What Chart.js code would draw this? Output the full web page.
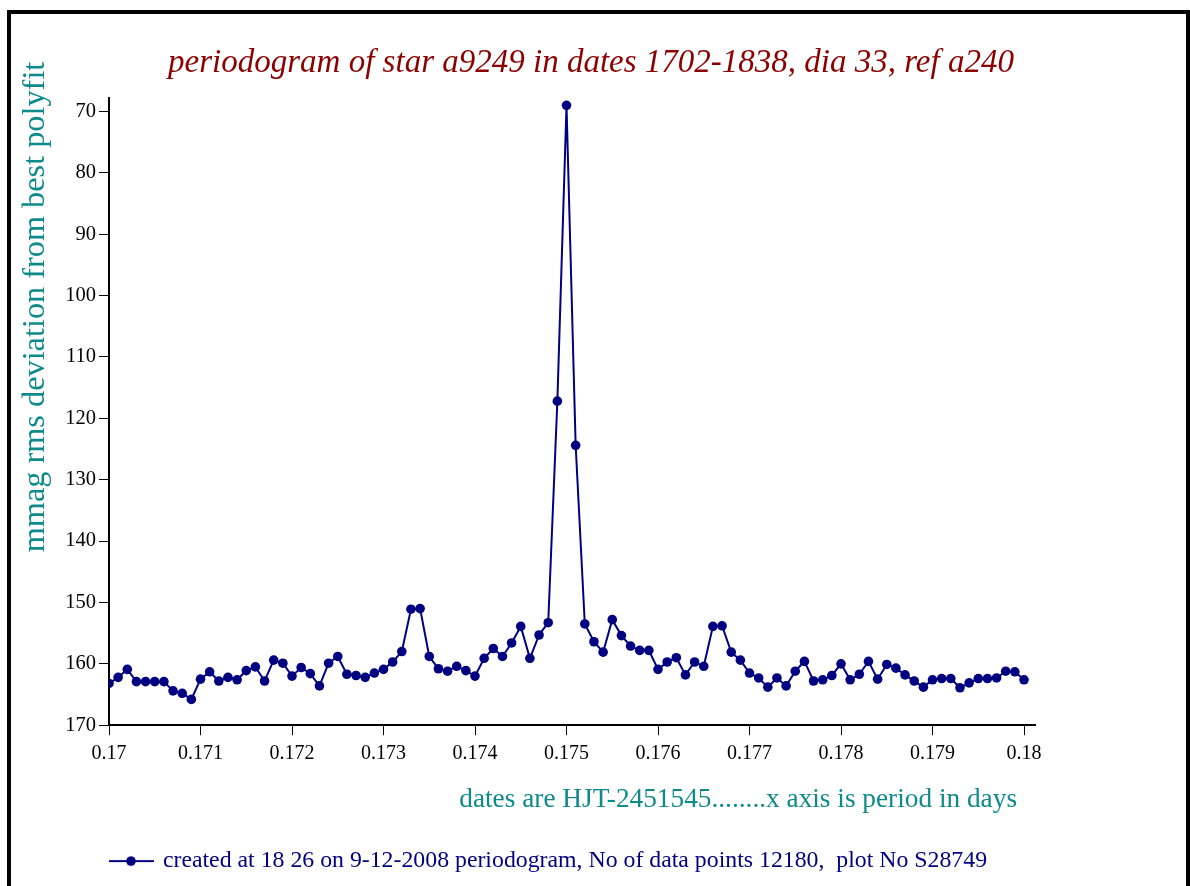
<!DOCTYPE html>
<html>
<head>
<meta charset="utf-8">
<script src="https://cdn.jsdelivr.net/npm/chart.js@4"></script>
<style>
  html, body { margin: 0; padding: 0; background: #fff; }
  #frame { position: absolute; left: 7px; top: 10px; width: 1175px; height: 900px;
           border-left: 4px solid #000; border-top: 4px solid #000; border-right: 4px solid #000; }
  #myChart { position: absolute; left: 0; top: 0; }
</style>
</head>
<body>
<div id="frame"></div>
<canvas id="myChart" width="1190" height="886"></canvas>
<script>
// period in days (x axis)
var periods = [
  0.1700, 0.1701, 0.1702, 0.1703, 0.1704, 0.1705, 0.1706, 0.1707, 0.1708, 0.1709,
  0.1710, 0.1711, 0.1712, 0.1713, 0.1714, 0.1715, 0.1716, 0.1717, 0.1718, 0.1719,
  0.1720, 0.1721, 0.1722, 0.1723, 0.1724, 0.1725, 0.1726, 0.1727, 0.1728, 0.1729,
  0.1730, 0.1731, 0.1732, 0.1733, 0.1734, 0.1735, 0.1736, 0.1737, 0.1738, 0.1739,
  0.1740, 0.1741, 0.1742, 0.1743, 0.1744, 0.1745, 0.1746, 0.1747, 0.1748, 0.1749,
  0.1750, 0.1751, 0.1752, 0.1753, 0.1754, 0.1755, 0.1756, 0.1757, 0.1758, 0.1759,
  0.1760, 0.1761, 0.1762, 0.1763, 0.1764, 0.1765, 0.1766, 0.1767, 0.1768, 0.1769,
  0.1770, 0.1771, 0.1772, 0.1773, 0.1774, 0.1775, 0.1776, 0.1777, 0.1778, 0.1779,
  0.1780, 0.1781, 0.1782, 0.1783, 0.1784, 0.1785, 0.1786, 0.1787, 0.1788, 0.1789,
  0.1790, 0.1791, 0.1792, 0.1793, 0.1794, 0.1795, 0.1796, 0.1797, 0.1798, 0.1799,
  0.1800
];

// mmag rms deviation
var rms = [
  163.2, 162.2, 160.9, 162.9, 162.9, 162.9, 162.9, 164.4, 164.8, 165.8,
  162.5, 161.3, 162.8, 162.2, 162.6, 161.1, 160.5, 162.8, 159.4, 159.9,
  162.0, 160.6, 161.6, 163.6, 159.9, 158.8, 161.7, 161.9, 162.2, 161.5,
  160.9, 159.7, 158.0, 151.1, 151.0, 158.8, 160.8, 161.2, 160.4, 161.1,
  162.0, 159.1, 157.5, 158.8, 156.6, 153.9, 159.1, 155.3, 153.3, 117.2,
  69.0, 124.4, 153.5, 156.4, 158.1, 152.8, 155.4, 157.1, 157.8, 157.8,
  160.9, 159.7, 159.0, 161.8, 159.7, 160.4, 153.9, 153.8, 158.1, 159.4,
  161.5, 162.3, 163.8, 162.3, 163.6, 161.2, 159.6, 162.8, 162.6, 161.9,
  160.0, 162.6, 161.7, 159.6, 162.5, 160.1, 160.7, 161.8, 162.8, 163.8,
  162.6, 162.4, 162.4, 163.9, 163.1, 162.4, 162.4, 162.3, 161.2, 161.3,
  162.6
];

var chartTitle = 'periodogram of star a9249 in dates 1702-1838, dia 33, ref a240';
var yTitle = 'mmag rms deviation from best polyfit';
var xTitle = 'dates are HJT-2451545........x axis is period in days';
var seriesLabel = 'created at 18 26 on 9-12-2008 periodogram, No of data points 12180,  plot No S28749';

var navy = '#000080';
var teal = '#0e8a8a';
var serif = '"Liberation Serif", "Times New Roman", serif';

var points = periods.map(function (p, i) { return { x: p, y: rms[i] }; });

// little line-with-dot used as the legend marker
var legendMark = document.createElement('canvas');
legendMark.width = 46;
legendMark.height = 12;
var lm = legendMark.getContext('2d');
lm.strokeStyle = navy;
lm.lineWidth = 2;
lm.beginPath(); lm.moveTo(0, 6); lm.lineTo(46, 6); lm.stroke();
lm.fillStyle = navy;
lm.beginPath(); lm.arc(23, 6, 4.8, 0, Math.PI * 2); lm.fill();

var axisTitles = {
  id: 'axisTitles',
  afterDraw: function (chart) {
    var c = chart.ctx;
    c.save();
    c.fillStyle = teal;
    c.font = '32.3px ' + serif;
    c.textBaseline = 'middle';
    c.translate(36, 307);
    c.rotate(-Math.PI / 2);
    c.textAlign = 'center';
    c.fillText(yTitle, 0, 0);
    c.restore();

    c.save();
    c.fillStyle = teal;
    c.font = '27.3px ' + serif;
    c.textBaseline = 'middle';
    c.textAlign = 'right';
    c.fillText(xTitle, 1017, 800);
    c.restore();
  }
};

var ctx = document.getElementById('myChart').getContext('2d');
var chart = new Chart(ctx, {
  type: 'line',
  data: {
    datasets: [{
      label: seriesLabel,
      data: points,
      borderColor: navy,
      backgroundColor: navy,
      borderWidth: 2,
      pointRadius: 4.8,
      pointBackgroundColor: navy,
      pointBorderWidth: 0,
      tension: 0
    }]
  },
  options: {
    responsive: false,
    animation: false,
    layout: { padding: { left: 0, right: 8, top: 0, bottom: 3 } },
    scales: {
      x: {
        type: 'linear',
        min: 0.17,
        max: 0.18012,
        afterFit: function (s) { s.height = 122; },
        border: { color: '#000', width: 2 },
        grid: { drawOnChartArea: false, color: '#000', lineWidth: 1, tickLength: 10 },
        ticks: {
          stepSize: 0.001,
          includeBounds: false,
          maxRotation: 0,
          padding: 7,
          color: '#000',
          font: { family: serif, size: 20 },
          callback: function (v) { return String(+v.toFixed(3)); }
        }
      },
      y: {
        reverse: true,
        min: 67.8,
        max: 170,
        afterFit: function (s) { s.width = 109; },
        border: { color: '#000', width: 2 },
        grid: { drawOnChartArea: false, color: '#000', lineWidth: 1, tickLength: 10 },
        ticks: {
          stepSize: 10,
          includeBounds: false,
          padding: 3,
          color: '#000',
          font: { family: serif, size: 20.5 }
        }
      },
      spacer: {
        position: 'right',
        display: true,
        afterFit: function (s) { s.width = 147; },
        border: { display: false },
        grid: { display: false },
        ticks: { display: false }
      }
    },
    plugins: {
      title: {
        display: true,
        text: chartTitle,
        color: '#8b0000',
        font: { family: serif, size: 33, style: 'italic', weight: 'normal', lineHeight: 1.2 },
        padding: { top: 44, bottom: 14.4 }
      },
      legend: {
        position: 'bottom',
        align: 'start',
        fullSize: false,
        labels: {
          usePointStyle: true,
          pointStyleWidth: 40,
          padding: 2,
          color: navy,
          font: { family: serif, size: 23.8 },
          generateLabels: function (chart) {
            var items = Chart.defaults.plugins.legend.labels.generateLabels(chart);
            items.forEach(function (it) { it.pointStyle = legendMark; });
            return items;
          }
        }
      },
      tooltip: { enabled: false }
    }
  },
  plugins: [axisTitles]
});
</script>
</body>
</html>
